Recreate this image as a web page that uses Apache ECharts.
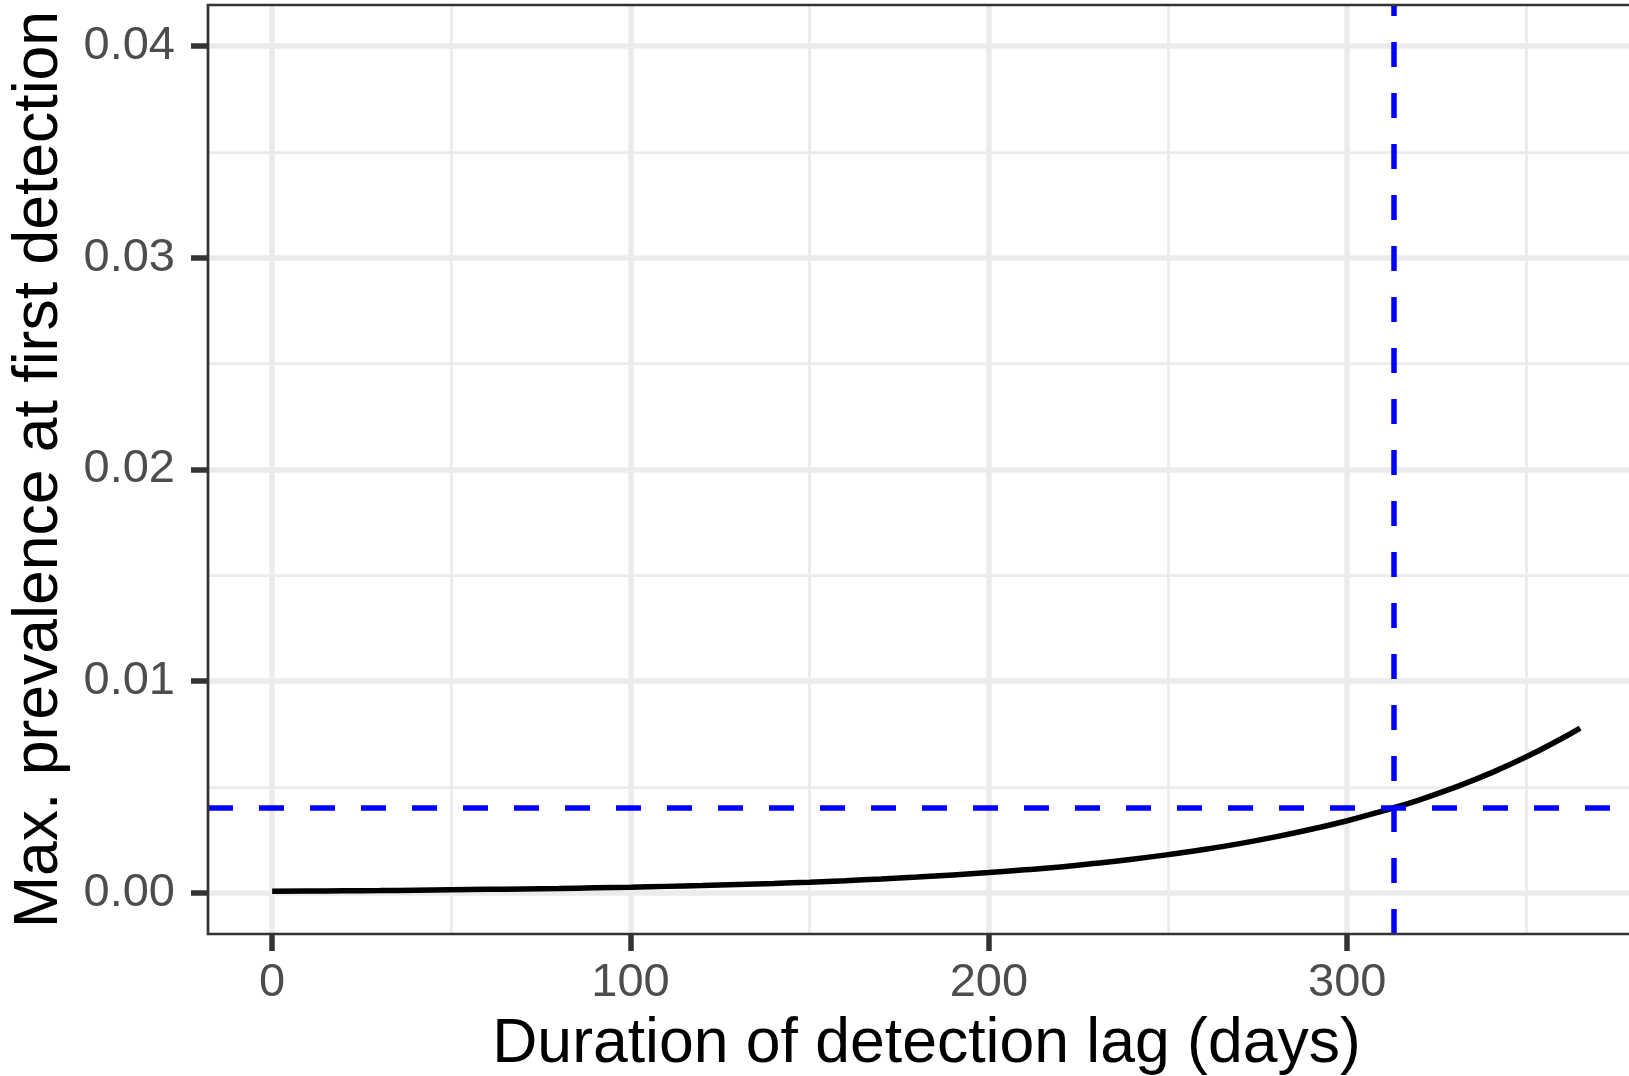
<!DOCTYPE html>
<html>
<head>
<meta charset="utf-8">
<script src="https://cdn.jsdelivr.net/npm/echarts@6/dist/echarts.min.js"></script>
<style>
  html, body { margin: 0; padding: 0; background: #ffffff; }
  #chart { width: 1629px; height: 1076px; }
</style>
</head>
<body>
<div id="chart"></div>
<script>
// Maximum prevalence reached at first detection, by length of the detection lag
const lagDays = [0, 10, 20, 30, 40, 50, 60, 70, 80, 90, 100, 110, 120, 130, 140, 150, 160, 170, 180,
                 190, 200, 210, 220, 230, 240, 250, 260, 270, 280, 290, 300, 310, 320, 330, 340, 350, 360, 365];
const maxPrevalence = [0.00007, 0.00008, 0.00009, 0.00010, 0.00012, 0.00014, 0.00016, 0.00018, 0.00020,
                       0.00023, 0.00026, 0.00030, 0.00034, 0.00039, 0.00044, 0.00050, 0.00057, 0.00065,
                       0.00074, 0.00084, 0.00095, 0.00108, 0.00122, 0.00139, 0.00158, 0.00180, 0.00204,
                       0.00232, 0.00264, 0.00300, 0.00340, 0.00387, 0.00438, 0.00498, 0.00565, 0.00642,
                       0.00730, 0.00778];

// Reference thresholds (dashed blue lines)
const thresholdLag = 313;
const thresholdPrevalence = 0.004;

// Axis ticks and grid lines
const xTickValues = [0, 100, 200, 300];
const xMinorValues = [50, 150, 250, 350];
const yTickValues = [0, 0.01, 0.02, 0.03, 0.04];
const yMinorValues = [0.005, 0.015, 0.025, 0.035];

const xTitle = 'Duration of detection lag (days)';
const yTitle = 'Max. prevalence at first detection';

const FONT = '"Liberation Sans", Arial, sans-serif';
const GRID_COLOR = '#EBEBEB';
const INK = '#333333';

const curveData = lagDays.map((d, i) => [d, maxPrevalence[i]]);

function gridLine(axisKey, value, width) {
  return { [axisKey]: value, lineStyle: { color: GRID_COLOR, width: width, type: 'solid' } };
}

const gridLines = [
  ...xMinorValues.map(v => gridLine('xAxis', v, 2.75)),
  ...yMinorValues.map(v => gridLine('yAxis', v, 2.75)),
  ...xTickValues.map(v => gridLine('xAxis', v, 5.5)),
  ...yTickValues.map(v => gridLine('yAxis', v, 5.5))
];

const chart = echarts.init(document.getElementById('chart'), null, { renderer: 'canvas' });

chart.setOption({
  animation: false,
  backgroundColor: '#ffffff',
  textStyle: { fontFamily: FONT },
  grid: {
    left: 208,
    top: 5,
    width: 1437,
    height: 929,
    show: true,
    z: 10,
    backgroundColor: 'transparent',
    borderColor: INK,
    borderWidth: 2.7,
    containLabel: false,
    outerBoundsMode: 'none'
  },
  xAxis: {
    type: 'value',
    z: 5,
    min: -17.9,
    max: 383.1,
    axisLine: { show: false, onZero: false },
    splitLine: { show: false },
    axisTick: {
      show: true,
      customValues: xTickValues,
      length: 17,
      lineStyle: { color: INK, width: 5.5 }
    },
    axisLabel: {
      customValues: xTickValues,
      margin: 26,
      color: '#4D4D4D',
      fontSize: 47,
      fontFamily: FONT,
      formatter: v => String(v)
    },
    name: xTitle,
    nameLocation: 'middle',
    nameGap: 79,
    nameTextStyle: { color: '#000000', fontSize: 62.5, fontFamily: FONT }
  },
  yAxis: {
    type: 'value',
    z: 5,
    min: -0.00195,
    max: 0.04194,
    axisLine: { show: false, onZero: false },
    splitLine: { show: false },
    axisTick: {
      show: true,
      customValues: yTickValues,
      length: 17,
      lineStyle: { color: INK, width: 5.5 }
    },
    axisLabel: {
      customValues: yTickValues,
      margin: 33,
      color: '#4D4D4D',
      fontSize: 47,
      fontFamily: FONT,
      formatter: v => v.toFixed(2)
    },
    name: yTitle,
    nameLocation: 'middle',
    nameRotate: 90,
    nameGap: 137,
    nameTextStyle: { color: '#000000', fontSize: 62.5, fontFamily: FONT }
  },
  series: [
    {
      // panel grid lines
      type: 'line',
      data: [],
      z: 1,
      silent: true,
      markLine: {
        z: 1,
        silent: true,
        animation: false,
        precision: 6,
        symbol: ['none', 'none'],
        label: { show: false },
        emphasis: { disabled: true },
        data: gridLines
      }
    },
    {
      type: 'line',
      data: curveData,
      z: 3,
      smooth: true,
      showSymbol: false,
      silent: true,
      lineStyle: { color: '#000000', width: 5.5 }
    },
    {
      // threshold reference lines
      type: 'line',
      data: [],
      z: 4,
      silent: true,
      markLine: {
        z: 4,
        silent: true,
        animation: false,
        precision: 6,
        symbol: ['none', 'none'],
        label: { show: false },
        emphasis: { disabled: true },
        lineStyle: { color: '#0000FF', width: 5.5, type: [25, 26] },
        data: [
          { xAxis: thresholdLag },
          { yAxis: thresholdPrevalence }
        ]
      }
    }
  ]
});
</script>
</body>
</html>
